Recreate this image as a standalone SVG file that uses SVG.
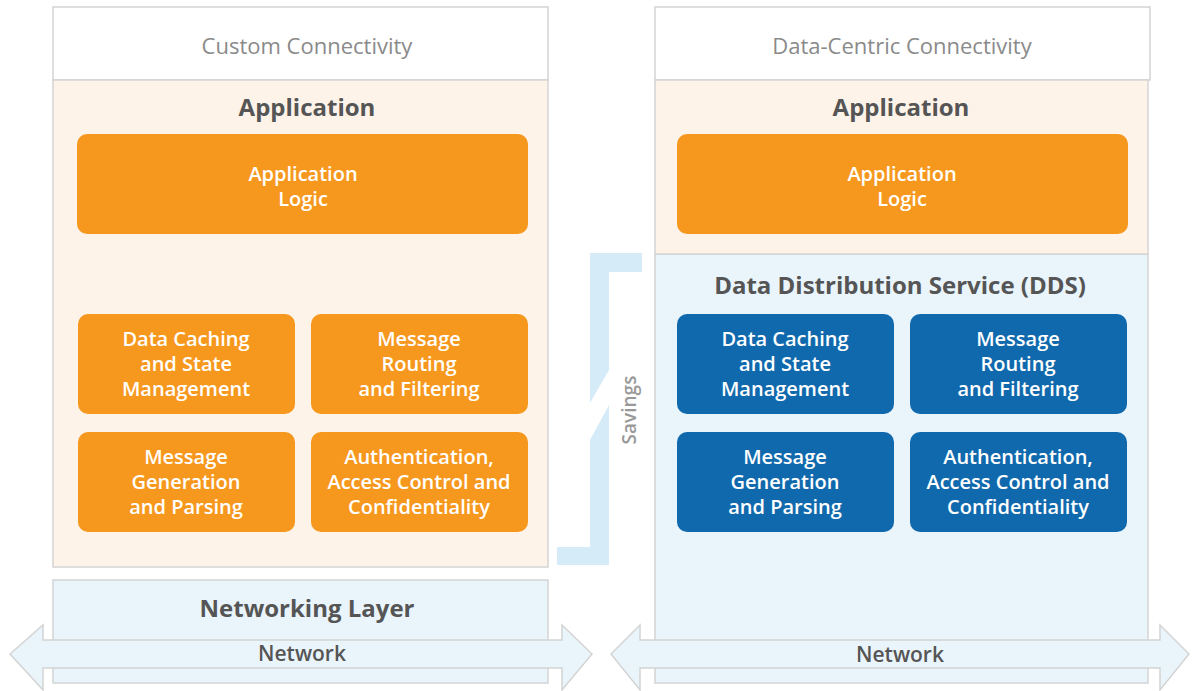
<svg xmlns="http://www.w3.org/2000/svg" width="1200" height="691" viewBox="0 0 1200 691">
<style>
text{font-family:"Open Sans","Liberation Sans",sans-serif;text-anchor:middle}
.title{font-size:22px;fill:#8a8a8a}
.head{font-size:24px;font-weight:700;fill:#555}
.bt{font-size:20px;font-weight:600;fill:#fff}
.net{font-size:21px;font-weight:600;fill:#555}
.o{fill:#f7981e}
.b{fill:#1169ad}
.frame{stroke:#d4d4d4;stroke-width:1.5}
</style>
<rect width="1200" height="691" fill="#fff"/>
<g id="left">
<rect class="frame" x="53" y="7" width="495" height="73" fill="#fff"/>
<text class="title" x="307" y="54">Custom Connectivity</text>
<rect class="frame" x="53" y="80" width="495" height="487" fill="#fdf3e8"/>
<text class="head" x="307" y="116">Application</text>
</g>
<g id="l-logic"><rect class="o" x="77" y="134" width="451" height="100" rx="10"/><text class="bt" x="303" y="181">Application</text><text class="bt" x="303" y="206">Logic</text></g>
<g id="l-cache"><rect class="o" x="78" y="314" width="217" height="100" rx="10"/><text class="bt" x="186" y="346">Data Caching</text><text class="bt" x="186" y="371">and State</text><text class="bt" x="186" y="396">Management</text></g>
<g id="l-route"><rect class="o" x="311" y="314" width="217" height="100" rx="10"/><text class="bt" x="419" y="346">Message</text><text class="bt" x="419" y="371">Routing</text><text class="bt" x="419" y="396">and Filtering</text></g>
<g id="l-gen"><rect class="o" x="78" y="432" width="217" height="100" rx="10"/><text class="bt" x="186" y="464">Message</text><text class="bt" x="186" y="489">Generation</text><text class="bt" x="186" y="514">and Parsing</text></g>
<g id="l-auth"><rect class="o" x="311" y="432" width="217" height="100" rx="10"/><text class="bt" x="419" y="464">Authentication,</text><text class="bt" x="419" y="489">Access Control and</text><text class="bt" x="419" y="514">Confidentiality</text></g>
<g id="l-netlayer"><rect class="frame" x="53" y="580" width="495" height="103" fill="#e9f4fb"/><text class="head" x="307" y="617">Networking Layer</text></g>
<g id="right">
<rect class="frame" x="655" y="7" width="495" height="73" fill="#fff"/>
<text class="title" x="902" y="54">Data-Centric Connectivity</text>
<rect class="frame" x="655" y="254" width="493" height="429" fill="#e9f4fb"/>
<rect class="frame" x="655" y="80" width="493" height="174" fill="#fdf3e8"/>
<text class="head" x="901" y="116">Application</text>
<text class="head" x="900" y="294">Data Distribution Service (DDS)</text>
</g>
<g id="r-logic"><rect class="o" x="677" y="134" width="451" height="100" rx="10"/><text class="bt" x="902" y="181">Application</text><text class="bt" x="902" y="206">Logic</text></g>
<g id="r-cache"><rect class="b" x="677" y="314" width="217" height="100" rx="10"/><text class="bt" x="785" y="346">Data Caching</text><text class="bt" x="785" y="371">and State</text><text class="bt" x="785" y="396">Management</text></g>
<g id="r-route"><rect class="b" x="910" y="314" width="217" height="100" rx="10"/><text class="bt" x="1018" y="346">Message</text><text class="bt" x="1018" y="371">Routing</text><text class="bt" x="1018" y="396">and Filtering</text></g>
<g id="r-gen"><rect class="b" x="677" y="432" width="217" height="100" rx="10"/><text class="bt" x="785" y="464">Message</text><text class="bt" x="785" y="489">Generation</text><text class="bt" x="785" y="514">and Parsing</text></g>
<g id="r-auth"><rect class="b" x="910" y="432" width="217" height="100" rx="10"/><text class="bt" x="1018" y="464">Authentication,</text><text class="bt" x="1018" y="489">Access Control and</text><text class="bt" x="1018" y="514">Confidentiality</text></g>
<g id="connectors">
<polygon points="10,654 43,625 43,640 562,640 562,625 592,654 562,690 562,668 43,668 43,690" fill="#eaf4fb" stroke="#d4d4d4" stroke-width="1.5"/>
<text class="net" x="302" y="661">Network</text>
<polygon points="611,654 640,625 640,640 1160,640 1160,625 1189,654 1160,690 1160,668 640,668 640,690" fill="#eaf4fb" stroke="#d4d4d4" stroke-width="1.5"/>
<text class="net" x="900" y="662">Network</text>
</g>
<g id="savings">
<polygon points="590,253 642,253 642,272 609,272 609,370 590,403" fill="#d6ebf8"/>
<polygon points="609,405 609,565 557,565 557,547 590,547 590,440" fill="#d6ebf8"/>
<text x="0" y="0" transform="translate(636,410) rotate(-90)" style="font-size:19px;font-weight:600;fill:#999">Savings</text>
</g>
</svg>
